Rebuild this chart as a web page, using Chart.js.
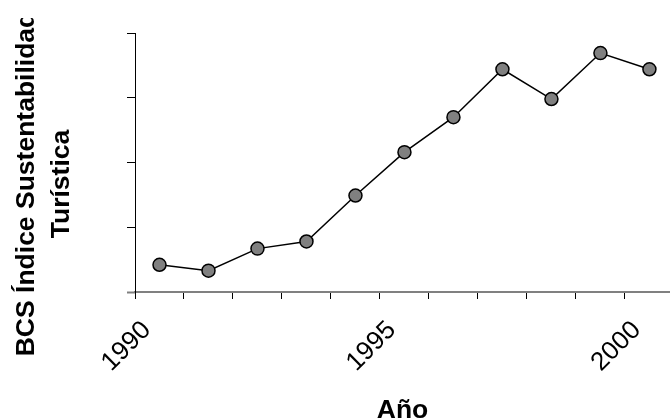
<!DOCTYPE html>
<html>
<head>
<meta charset="utf-8">
<script src="https://cdn.jsdelivr.net/npm/chart.js@4/dist/chart.umd.min.js"></script>
<style>
  html, body { margin: 0; padding: 0; background: #fff; overflow: hidden; }
</style>
</head>
<body>
<canvas id="grafica" width="670" height="419"></canvas>
<script>
'use strict';
//___________DATOS__________________
var anios = [1990, 1991, 1992, 1993, 1994, 1995, 1996, 1997, 1998, 1999, 2000];
var indice = [0.42, 0.33, 0.67, 0.78, 1.49, 2.16, 2.70, 3.44, 2.98, 3.69, 3.44];
var ticksX = [1990, 1991, 1992, 1993, 1994, 1995, 1996, 1997, 1998, 1999, 2000];
var etiquetasX = [1990, 1995, 2000];
var ticksY = [0, 1, 2, 3, 4];
var tituloY = ['BCS Índice Sustentabilidad', 'Turística'];
var tituloX = 'Año';

var FUENTE = "'Liberation Sans', Arial, sans-serif";

// points sit in the middle of each year
var puntos = [];
for (var i = 0; i < anios.length; i++) {
  puntos.push({x: anios[i] + 0.5, y: indice[i]});
}

//___________TITULO EJE Y (recortado arriba como en el original)__________
var tituloYPlugin = {
  id: 'tituloY',
  afterDraw: function(chart) {
    var ctx = chart.ctx;
    var centro = chart.chartArea.top + 151;
    ctx.save();
    ctx.beginPath();
    ctx.rect(0, 18, 130, 419);
    ctx.clip();
    ctx.fillStyle = '#000';
    ctx.font = 'bold 26.5px ' + FUENTE;
    ctx.textAlign = 'center';
    ctx.textBaseline = 'middle';
    var xs = [27, 62];
    for (var k = 0; k < tituloY.length; k++) {
      ctx.save();
      ctx.translate(xs[k], centro);
      ctx.rotate(-Math.PI / 2);
      ctx.fillText(tituloY[k], 0, 0);
      ctx.restore();
    }
    ctx.restore();
  }
};

var ctx = document.getElementById('grafica').getContext('2d');
new Chart(ctx, {
  type: 'line',
  data: {
    datasets: [{
      data: puntos,
      borderColor: '#000',
      borderWidth: 1.5,
      backgroundColor: '#808080',
      pointBackgroundColor: '#808080',
      pointBorderColor: '#000',
      pointBorderWidth: 1.5,
      pointRadius: 6.5,
      tension: 0
    }]
  },
  options: {
    responsive: false,
    animation: false,
    devicePixelRatio: 1,
    layout: {autoPadding: false, padding: {top: 33, left: 0, right: 0, bottom: 0}},
    plugins: {legend: {display: false}, tooltip: {enabled: false}},
    scales: {
      x: {
        type: 'linear',
        min: 1990,
        max: 2000.92,
        afterBuildTicks: function(scale) {
          scale.ticks = ticksX.map(function(v) { return {value: v}; });
        },
        afterFit: function(scale) {
          scale.height = 127;
          scale.paddingLeft = 0;
          scale.paddingRight = 0;
        },
        ticks: {
          autoSkip: false,
          minRotation: 45,
          maxRotation: 45,
          padding: 16,
          labelOffset: 12,
          color: '#000',
          font: {family: FUENTE, size: 26},
          callback: function(v) {
            return etiquetasX.indexOf(v) >= 0 ? String(v) : '';
          }
        },
        grid: {drawOnChartArea: false, drawTicks: true, tickLength: 7, color: '#000', lineWidth: 1},
        border: {display: true, color: '#808080', width: 2},
        title: {
          display: true,
          text: tituloX,
          color: '#000',
          font: {family: FUENTE, size: 26.5, weight: 'bold'},
          padding: {top: 0, bottom: -8}
        }
      },
      y: {
        min: 0,
        max: 4,
        afterBuildTicks: function(scale) {
          scale.ticks = ticksY.map(function(v) { return {value: v}; });
        },
        afterFit: function(scale) { scale.width = 135; },
        ticks: {display: false},
        grid: {
          drawOnChartArea: false,
          drawTicks: true,
          tickLength: 8,
          color: '#000',
          tickColor: function(c) { return c.tick && c.tick.value === 0 ? '#808080' : '#000'; },
          tickWidth: function(c) { return c.tick && c.tick.value === 0 ? 2 : 1; }
        },
        border: {display: true, color: '#000', width: 1}
      }
    }
  },
  plugins: [tituloYPlugin]
});
</script>
</body>
</html>
